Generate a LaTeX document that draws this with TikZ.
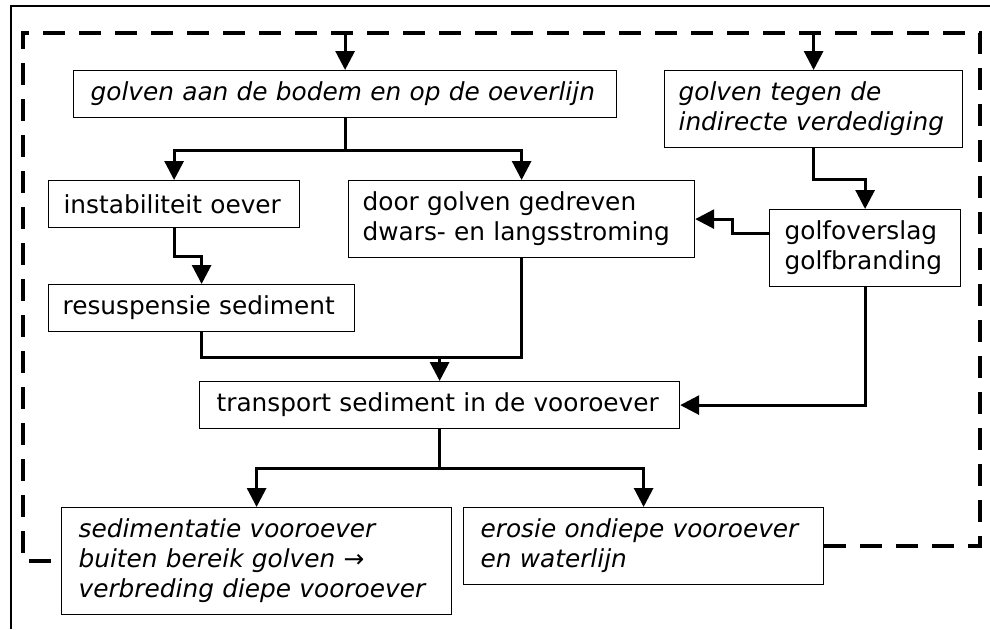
\documentclass[tikz,border=0pt]{standalone}
\usepackage{fontspec}
\setmainfont{DejaVu Sans}
\usepackage{tikz}
\usetikzlibrary{calc,arrows.meta}

\tikzset{
     box/.style={draw, line width=1.2pt, anchor=north west, inner xsep=17pt, inner ysep=0pt, align=left, font=\fontsize{24.8}{30}\selectfont},
     ibox/.style={box, font=\fontsize{24.8}{30}\selectfont\itshape},
     conn/.style={line width=3pt, -{Triangle[length=19pt,width=19pt]}},
     link/.style={line width=3pt},
     feedback/.style={line width=4pt, dash pattern=on 22pt off 14pt},
}

\begin{document}
\begin{tikzpicture}[x=1pt,y=-1pt]
     \useasboundingbox (0,0) rectangle (990,629);

     \coordinate (FR) at (11,6);
     \coordinate (FBL) at (23,33);
     \coordinate (FBR) at (980,33);

     \node[ibox, text width=509pt, minimum height=47pt] (bodem) at (73,70) {golven aan de bodem en op de oeverlijn};
     \node[ibox, inner xsep=14pt, text width=270pt, minimum height=77pt] (tegen) at (664,70) {golven tegen de\\indirecte verdediging};
     \node[box, inner xsep=15pt, text width=221pt, minimum height=47pt] (instab) at (48,180) {instabiliteit oever};
     \node[box, inner xsep=14pt, text width=318pt, minimum height=77pt] (door) at (348,180) {door golven gedreven\\dwars- en langsstroming};
     \node[box, inner xsep=15pt, text width=161pt, minimum height=77pt] (golf) at (769,209) {golfoverslag\\golfbranding};
     \node[box, inner xsep=14pt, text width=278pt, minimum height=47pt] (resusp) at (48,284) {resuspensie sediment};
     \node[box, text width=446pt, minimum height=47pt] (transport) at (199,381) {transport sediment in de vooroever};
     \node[ibox, text width=356pt, minimum height=107pt] (sedim) at (61,507) {sedimentatie vooroever\\buiten bereik golven →\\verbreding diepe vooroever};
     \node[ibox, text width=326pt, minimum height=77pt] (erosie) at (463,507) {erosie ondiepe vooroever\\en waterlijn};

     \draw [line width=1.3pt] (990,6) -- (FR) -- (11,629);
     \draw [feedback] (erosie.east) -| (FBR) -- (FBL) |- (sedim.west);
     \draw [conn] (bodem.north |- FBL) -- (bodem.north);
     \draw [conn] (tegen.north |- FBL) -- (tegen.north);

     \draw [conn] (bodem.south) -- ++(0,32) -| (instab.north);
     \draw [conn] (bodem.south) -- ++(0,32) -| (door.north);
     \draw [conn] (instab.south) -- ++(0,28) -| (resusp.north);
     \draw [conn] (tegen.south) -- ++(0,31) -| (golf.north);
     \draw [conn] ([yshift=15pt]golf.west) -- ++(-37,0) |- (door.east);
     \draw [link] (resusp.south) -- ++(0,25) -| (door.south);
     \draw [conn] ($(transport.north)+(0,-25)$) -- (transport.north);
     \draw [conn] (golf.south) |- (transport.east);
     \draw [conn] (transport.south) -- ++(0,39) -| (sedim.north);
     \draw [conn] (transport.south) -- ++(0,39) -| (erosie.north);

  \end{tikzpicture}
\end{document}
